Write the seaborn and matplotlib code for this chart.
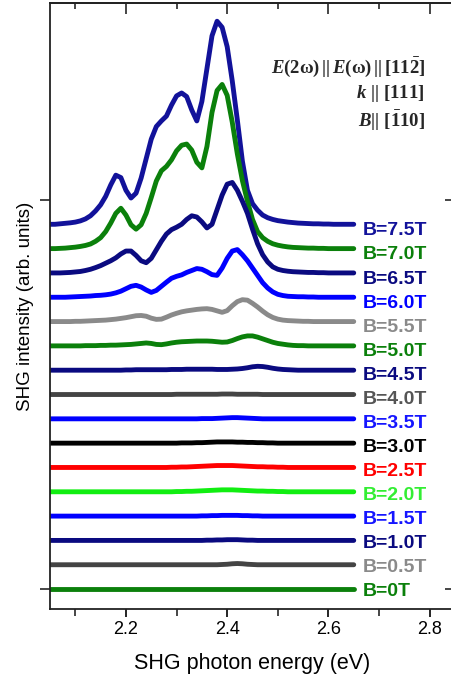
import pandas as pd
import matplotlib
matplotlib.use("Agg")
import matplotlib.pyplot as plt
import seaborn as sns

energy = [
    2.05, 2.06, 2.07, 2.08, 2.09, 2.10, 2.11, 2.12, 2.13, 2.14,
    2.15, 2.16, 2.17, 2.18, 2.19, 2.20, 2.21, 2.22, 2.23, 2.24,
    2.25, 2.26, 2.27, 2.28, 2.29, 2.30, 2.31, 2.32, 2.33, 2.34,
    2.35, 2.36, 2.37, 2.38, 2.39, 2.40, 2.41, 2.42, 2.43, 2.44,
    2.45, 2.46, 2.47, 2.48, 2.49, 2.50, 2.51, 2.52, 2.53, 2.54,
    2.55, 2.56, 2.57, 2.58, 2.59, 2.60, 2.61, 2.62, 2.63, 2.64,
    2.65]

shg_7p5 = [
    0.00, 0.00, 0.02, 0.04, 0.06, 0.09, 0.14, 0.22, 0.35, 0.55,
    0.80, 1.15, 1.62, 2.02, 1.92, 1.40, 1.08, 1.28, 1.90, 2.70,
    3.50, 4.02, 4.25, 4.45, 4.90, 5.28, 5.40, 5.25, 4.70, 4.25,
    5.05, 6.40, 7.75, 8.35, 8.10, 7.30, 5.90, 4.30, 2.60, 1.40,
    0.85, 0.58, 0.38, 0.27, 0.20, 0.15, 0.12, 0.09, 0.07, 0.05,
    0.04, 0.03, 0.02, 0.02, 0.01, 0.01, 0.00, 0.00, 0.00, 0.00,
    0.00]
shg_7p0 = [
    0.00, 0.00, 0.01, 0.02, 0.04, 0.06, 0.09, 0.13, 0.19, 0.30,
    0.45, 0.70, 1.05, 1.45, 1.66, 1.38, 0.98, 0.80, 0.98, 1.45,
    2.10, 2.78, 3.20, 3.38, 3.65, 4.02, 4.25, 4.30, 4.05, 3.55,
    3.32, 4.20, 5.60, 6.50, 6.75, 6.30, 5.20, 3.90, 2.80, 1.95,
    1.20, 0.70, 0.45, 0.30, 0.20, 0.14, 0.10, 0.07, 0.05, 0.04,
    0.03, 0.02, 0.02, 0.01, 0.01, 0.00, 0.00, 0.00, 0.00, 0.00,
    0.00]
shg_6p5 = [
    0.00, 0.00, 0.00, 0.01, 0.02, 0.04, 0.06, 0.10, 0.15, 0.22,
    0.30, 0.40, 0.50, 0.62, 0.78, 0.90, 0.90, 0.72, 0.50, 0.42,
    0.60, 0.95, 1.30, 1.60, 1.78, 1.88, 2.00, 2.20, 2.35, 2.30,
    2.10, 1.85, 2.00, 2.60, 3.20, 3.65, 3.72, 3.40, 2.95, 2.45,
    1.80, 1.20, 0.75, 0.45, 0.25, 0.15, 0.10, 0.07, 0.05, 0.04,
    0.03, 0.02, 0.02, 0.01, 0.01, 0.00, 0.00, 0.00, 0.00, 0.00,
    0.00]
shg_6p0 = [
    0.00, 0.00, 0.00, 0.00, 0.01, 0.02, 0.03, 0.04, 0.05, 0.07,
    0.08, 0.10, 0.13, 0.18, 0.25, 0.35, 0.45, 0.49, 0.42, 0.30,
    0.20, 0.28, 0.45, 0.62, 0.78, 0.86, 0.92, 1.02, 1.10, 1.18,
    1.15, 1.05, 0.93, 0.90, 1.20, 1.60, 1.90, 1.96, 1.75, 1.50,
    1.20, 0.90, 0.60, 0.38, 0.22, 0.12, 0.07, 0.04, 0.03, 0.02,
    0.02, 0.01, 0.01, 0.00, 0.00, 0.00, 0.00, 0.00, 0.00, 0.00,
    0.00]
shg_5p5 = [
    0.00, 0.00, 0.00, 0.00, 0.00, 0.01, 0.01, 0.02, 0.03, 0.04,
    0.05, 0.06, 0.08, 0.10, 0.13, 0.16, 0.20, 0.24, 0.25, 0.22,
    0.14, 0.09, 0.10, 0.18, 0.27, 0.34, 0.40, 0.44, 0.47, 0.50,
    0.52, 0.53, 0.50, 0.44, 0.38, 0.45, 0.65, 0.82, 0.90, 0.88,
    0.75, 0.60, 0.43, 0.28, 0.17, 0.10, 0.06, 0.04, 0.03, 0.02,
    0.01, 0.01, 0.00, 0.00, 0.00, 0.00, 0.00, 0.00, 0.00, 0.00,
    0.00]
shg_5p0 = [
    0.00, 0.00, 0.00, 0.00, 0.00, 0.00, 0.00, 0.01, 0.01, 0.01,
    0.02, 0.02, 0.03, 0.03, 0.04, 0.05, 0.06, 0.08, 0.10, 0.12,
    0.10, 0.06, 0.05, 0.08, 0.12, 0.15, 0.17, 0.18, 0.19, 0.20,
    0.20, 0.20, 0.19, 0.17, 0.15, 0.16, 0.22, 0.30, 0.37, 0.41,
    0.41, 0.36, 0.29, 0.22, 0.15, 0.10, 0.07, 0.04, 0.02, 0.01,
    0.01, 0.00, 0.00, 0.00, 0.00, 0.00, 0.00, 0.00, 0.00, 0.00,
    0.00]
shg_4p5 = [
    0.00, 0.00, 0.00, 0.00, 0.00, 0.00, 0.00, 0.00, 0.00, 0.00,
    0.00, 0.00, 0.00, 0.00, 0.00, 0.01, 0.01, 0.02, 0.02, 0.02,
    0.02, 0.02, 0.02, 0.02, 0.03, 0.03, 0.03, 0.04, 0.04, 0.04,
    0.04, 0.04, 0.04, 0.03, 0.03, 0.03, 0.04, 0.05, 0.07, 0.10,
    0.14, 0.16, 0.15, 0.12, 0.08, 0.05, 0.03, 0.02, 0.01, 0.00,
    0.00, 0.00, 0.00, 0.00, 0.00, 0.00, 0.00, 0.00, 0.00, 0.00,
    0.00]
shg_4p0 = [
    0.00, 0.00, 0.00, 0.00, 0.00, 0.00, 0.00, 0.00, 0.00, 0.00,
    0.00, 0.00, 0.00, 0.00, 0.00, 0.00, 0.00, 0.00, 0.00, 0.00,
    0.00, 0.00, 0.00, 0.00, 0.00, 0.01, 0.01, 0.01, 0.01, 0.01,
    0.01, 0.01, 0.01, 0.01, 0.02, 0.02, 0.02, 0.01, 0.01, 0.01,
    0.01, 0.01, 0.00, 0.00, 0.00, 0.00, 0.00, 0.00, 0.00, 0.00,
    0.00, 0.00, 0.00, 0.00, 0.00, 0.00, 0.00, 0.00, 0.00, 0.00,
    0.00]
shg_3p5 = [
    0.00, 0.00, 0.00, 0.00, 0.00, 0.00, 0.00, 0.00, 0.00, 0.00,
    0.00, 0.00, 0.00, 0.00, 0.00, 0.00, 0.00, 0.00, 0.00, 0.00,
    0.00, 0.00, 0.00, 0.00, 0.00, 0.00, 0.00, 0.00, 0.00, 0.00,
    0.01, 0.01, 0.01, 0.02, 0.03, 0.04, 0.05, 0.05, 0.04, 0.03,
    0.02, 0.01, 0.00, 0.00, 0.00, 0.00, 0.00, 0.00, 0.00, 0.00,
    0.00, 0.00, 0.00, 0.00, 0.00, 0.00, 0.00, 0.00, 0.00, 0.00,
    0.00]
shg_3p0 = [
    0.00, 0.00, 0.00, 0.00, 0.00, 0.00, 0.00, 0.00, 0.00, 0.00,
    0.00, 0.00, 0.00, 0.00, 0.00, 0.00, 0.00, 0.00, 0.00, 0.00,
    0.00, 0.00, 0.00, 0.00, 0.00, 0.00, 0.01, 0.01, 0.01, 0.02,
    0.02, 0.03, 0.04, 0.05, 0.05, 0.05, 0.05, 0.04, 0.04, 0.03,
    0.03, 0.02, 0.02, 0.01, 0.01, 0.00, 0.00, 0.00, 0.00, 0.00,
    0.00, 0.00, 0.00, 0.00, 0.00, 0.00, 0.00, 0.00, 0.00, 0.00,
    0.00]
shg_2p5 = [
    0.00, 0.00, 0.00, 0.00, 0.00, 0.00, 0.00, 0.00, 0.00, 0.00,
    0.00, 0.00, 0.00, 0.00, 0.00, 0.00, 0.00, 0.00, 0.00, 0.00,
    0.00, 0.00, 0.00, 0.00, 0.01, 0.01, 0.02, 0.02, 0.03, 0.04,
    0.05, 0.06, 0.07, 0.08, 0.08, 0.08, 0.08, 0.07, 0.06, 0.05,
    0.04, 0.03, 0.03, 0.02, 0.02, 0.01, 0.01, 0.00, 0.00, 0.00,
    0.00, 0.00, 0.00, 0.00, 0.00, 0.00, 0.00, 0.00, 0.00, 0.00,
    0.00]
shg_2p0 = [
    0.00, 0.00, 0.00, 0.00, 0.00, 0.00, 0.00, 0.00, 0.00, 0.00,
    0.00, 0.00, 0.00, 0.00, 0.00, 0.00, 0.00, 0.00, 0.00, 0.00,
    0.00, 0.00, 0.00, 0.00, 0.00, 0.01, 0.01, 0.02, 0.02, 0.03,
    0.04, 0.05, 0.06, 0.07, 0.08, 0.08, 0.08, 0.07, 0.06, 0.05,
    0.04, 0.03, 0.03, 0.02, 0.02, 0.01, 0.01, 0.00, 0.00, 0.00,
    0.00, 0.00, 0.00, 0.00, 0.00, 0.00, 0.00, 0.00, 0.00, 0.00,
    0.00]
shg_1p5 = [
    0.00, 0.00, 0.00, 0.00, 0.00, 0.00, 0.00, 0.00, 0.00, 0.00,
    0.00, 0.00, 0.00, 0.00, 0.00, 0.00, 0.00, 0.00, 0.00, 0.00,
    0.00, 0.00, 0.00, 0.00, 0.00, 0.00, 0.00, 0.00, 0.00, 0.00,
    0.01, 0.01, 0.02, 0.02, 0.03, 0.03, 0.03, 0.03, 0.02, 0.02,
    0.01, 0.01, 0.00, 0.00, 0.00, 0.00, 0.00, 0.00, 0.00, 0.00,
    0.00, 0.00, 0.00, 0.00, 0.00, 0.00, 0.00, 0.00, 0.00, 0.00,
    0.00]
shg_1p0 = [
    0.00, 0.00, 0.00, 0.00, 0.00, 0.00, 0.00, 0.00, 0.00, 0.00,
    0.00, 0.00, 0.00, 0.00, 0.00, 0.00, 0.00, 0.00, 0.00, 0.00,
    0.00, 0.00, 0.00, 0.00, 0.00, 0.00, 0.00, 0.00, 0.00, 0.00,
    0.00, 0.01, 0.01, 0.02, 0.02, 0.03, 0.03, 0.03, 0.02, 0.01,
    0.01, 0.00, 0.00, 0.00, 0.00, 0.00, 0.00, 0.00, 0.00, 0.00,
    0.00, 0.00, 0.00, 0.00, 0.00, 0.00, 0.00, 0.00, 0.00, 0.00,
    0.00]
shg_0p5 = [
    0.00, 0.00, 0.00, 0.00, 0.00, 0.00, 0.00, 0.00, 0.00, 0.00,
    0.00, 0.00, 0.00, 0.00, 0.00, 0.00, 0.00, 0.00, 0.00, 0.00,
    0.00, 0.00, 0.00, 0.00, 0.00, 0.00, 0.00, 0.00, 0.00, 0.00,
    0.00, 0.00, 0.00, 0.00, 0.01, 0.02, 0.04, 0.05, 0.04, 0.02,
    0.01, 0.00, 0.00, 0.00, 0.00, 0.00, 0.00, 0.00, 0.00, 0.00,
    0.00, 0.00, 0.00, 0.00, 0.00, 0.00, 0.00, 0.00, 0.00, 0.00,
    0.00]
shg_0p0 = [
    0.00, 0.00, 0.00, 0.00, 0.00, 0.00, 0.00, 0.00, 0.00, 0.00,
    0.00, 0.00, 0.00, 0.00, 0.00, 0.00, 0.00, 0.00, 0.00, 0.00,
    0.00, 0.00, 0.00, 0.00, 0.00, 0.00, 0.00, 0.00, 0.00, 0.00,
    0.00, 0.00, 0.00, 0.00, 0.00, 0.00, 0.00, 0.00, 0.00, 0.00,
    0.00, 0.00, 0.00, 0.00, 0.00, 0.00, 0.00, 0.00, 0.00, 0.00,
    0.00, 0.00, 0.00, 0.00, 0.00, 0.00, 0.00, 0.00, 0.00, 0.00,
    0.00]

fields = ["B=7.5T", "B=7.0T", "B=6.5T", "B=6.0T", "B=5.5T", "B=5.0T",
          "B=4.5T", "B=4.0T", "B=3.5T", "B=3.0T", "B=2.5T", "B=2.0T",
          "B=1.5T", "B=1.0T", "B=0.5T", "B=0T"]
spectra = [shg_7p5, shg_7p0, shg_6p5, shg_6p0, shg_5p5, shg_5p0,
           shg_4p5, shg_4p0, shg_3p5, shg_3p0, shg_2p5, shg_2p0,
           shg_1p5, shg_1p0, shg_0p5, shg_0p0]
line_colors = ["#12129a", "#0b800b", "#0a0a80", "#0000ff", "#8a8a8a", "#0b800b",
               "#0a0a80", "#444444", "#0000ff", "#000000", "#ff0000", "#11ee11",
               "#0000ff", "#0a0a80", "#444444", "#0b800b"]
label_colors = ["#12129a", "#0b800b", "#0a0a80", "#0000ff", "#8a8a8a", "#0b800b",
                "#0a0a80", "#555555", "#1515ff", "#000000", "#ff0000", "#33ee33",
                "#1515ff", "#0a0a80", "#8a8a8a", "#0b800b"]

# stack the spectra with one unit of offset per field step
rows = []
for k, (name, vals) in enumerate(zip(fields, spectra)):
    shift = len(fields) - 1 - k
    for e, v in zip(energy, vals):
        rows.append((name, e, v + shift))
df = pd.DataFrame(rows, columns=["field", "energy", "signal"])

sns.set_theme(style="ticks")
plt.rcParams["font.family"] = ["Liberation Sans", "DejaVu Sans"]
plt.rcParams["mathtext.fontset"] = "custom"
plt.rcParams["mathtext.rm"] = "Liberation Serif:bold"
plt.rcParams["mathtext.it"] = "Liberation Serif:italic:bold"
plt.rcParams["mathtext.bf"] = "Liberation Serif:bold"

fig = plt.figure(figsize=(4.51, 6.83), dpi=100)
ax = fig.add_axes([50 / 451, 74 / 683, 405 / 451, 606 / 683])

sns.lineplot(data=df, x="energy", y="signal", hue="field", hue_order=fields,
             palette=dict(zip(fields, line_colors)), estimator=None, sort=False,
             legend=False, linewidth=3.5, solid_capstyle="round",
             solid_joinstyle="round", ax=ax)

# labels sit just under the right end of each trace
for k, name in enumerate(fields):
    shift = len(fields) - 1 - k
    ax.text(2.668, shift - 0.12 - 0.01 * shift, name, color=label_colors[k],
            fontsize=14, fontweight="bold", ha="left", va="center")

ax.set_xlim(2.05, 2.85)
ax.set_ylim(-0.82, 24.1)
ax.set_xticks([2.2, 2.4, 2.6, 2.8])
ax.set_xticks([2.1, 2.3, 2.5, 2.7], minor=True)
ax.set_yticks([0, 16])
ax.set_yticklabels([])
ax.tick_params(axis="x", which="major", direction="out", length=6, width=1.2,
               labelsize=13, colors="black", pad=3)
ax.tick_params(axis="x", which="minor", direction="out", length=5, width=1.2)
ax.tick_params(axis="y", direction="out", length=7, width=1.2)

# mirrored ticks on top / right point into the frame
top = ax.secondary_xaxis("top")
top.set_xticks([2.2, 2.4, 2.6, 2.8])
top.set_xticks([2.1, 2.3, 2.5, 2.7], minor=True)
top.tick_params(which="major", direction="in", length=8, width=1.2, labeltop=False)
top.tick_params(which="minor", direction="in", length=4, width=1.2)
right = ax.secondary_yaxis("right")
right.set_yticks([0, 16])
right.tick_params(direction="in", length=7, width=1.2, labelright=False)

for sp in list(ax.spines.values()) + [top.spines["top"], right.spines["right"]]:
    sp.set_color("#222222")
    sp.set_linewidth(1.3)

ax.set_xlabel("SHG photon energy (eV)", fontsize=15.5, labelpad=10.5, color="black")
ax.set_ylabel("SHG intensity (arb. units)", fontsize=13.5, labelpad=1, color="black")

ax.text(0.926, 0.894, r"$E\mathrm{(2\omega)\,||\,}E\mathrm{(\omega)\,||\,[11\bar{2}]}$",
        transform=ax.transAxes, ha="right", va="center", fontsize=13.5)
ax.text(0.926, 0.850, r"$k\mathrm{\ ||\ [111]}$",
        transform=ax.transAxes, ha="right", va="center", fontsize=13.5)
ax.text(0.926, 0.805, r"$B\mathrm{||\ [\bar{1}10]}$",
        transform=ax.transAxes, ha="right", va="center", fontsize=13.5)

fig.savefig("out.png", dpi=100)
